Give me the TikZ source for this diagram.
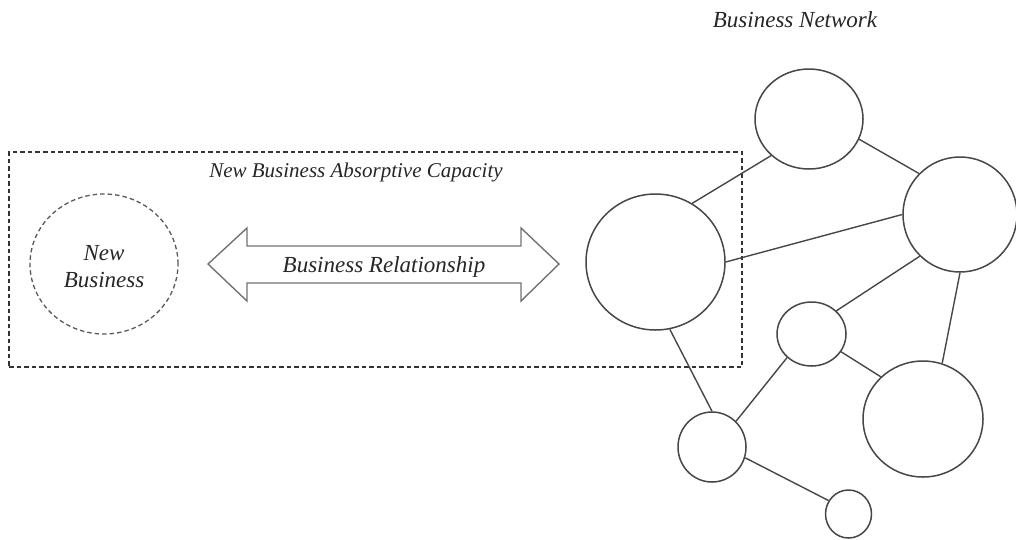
\documentclass[tikz,border=0pt]{standalone}
\usepackage{fontspec}
\setmainfont{Liberation Serif}
\usetikzlibrary{shapes.geometric}
\begin{document}
\begin{tikzpicture}[x=1pt,y=-1pt,
  lbl/.style={font=\fontsize{23}{27}\selectfont\itshape, text=black!85, inner sep=0pt, align=center},
  netnode/.style={ellipse, draw=black!72, line width=1.5pt, inner sep=0pt, fill=white},
  link/.style={draw=black!72, line width=1.4pt},
  dashline/.style={draw=black!80, line width=1.3pt, dash pattern=on 4.5pt off 3pt}
]
\useasboundingbox (0,0) rectangle (1016,539);

% title of the network
\node[lbl] (nettitle) at (795,20) {Business Network};

% absorptive capacity frame
\node[dashline, rectangle, minimum width=733pt, minimum height=215pt, inner sep=0pt] (frame) at (375.5,259.5) {};
\node[lbl, font=\fontsize{21}{25}\selectfont\itshape] (frametitle) at (356,172) {New Business Absorptive Capacity};

% the new business
\node[ellipse, dashline, draw=black!65, minimum width=148pt, minimum height=140pt, inner sep=0pt] (newbiz) at (104,264) {};
\node[lbl] (newbiztext) at (104,267) {New\\Business};

% two-headed relationship arrow
\draw[draw=black!55, line width=1.4pt, fill=white]
  (208,264) -- (247,228) -- (247,246) -- (521,246) -- (521,228) -- (559,264)
  -- (521,301) -- (521,283) -- (247,283) -- (247,301) -- cycle;
\node[lbl] (reltext) at (384,267) {Business Relationship};

% network members
\node[netnode, minimum width=108pt, minimum height=100pt] (T) at (809,119) {};
\node[netnode, minimum width=139pt, minimum height=136pt] (L) at (655.5,262) {};
\node[netnode, minimum width=114pt, minimum height=115pt] (RU) at (960,214.5) {};
\node[netnode, minimum width=69pt, minimum height=64pt] (MS) at (811.5,334) {};
\node[netnode, minimum width=120pt, minimum height=116pt] (RL) at (923,419) {};
\node[netnode, minimum width=68pt, minimum height=70pt] (LL) at (712,447) {};
\node[netnode, minimum width=46pt, minimum height=48pt] (BS) at (848.5,514) {};

% ties between members
\draw[link] (L.58) -- (T.224);
\draw[link] (T.-22) -- (RU.135);
\draw[link] (L.0) -- (RU.180);
\draw[link] (RU.226) -- (MS.43);
\draw[link] (RU.270) -- (RL.71);
\draw[link] (MS.-31) -- (RL.135);
\draw[link] (MS.224) -- (LL.47);
\draw[link] (L.-78) -- (LL.90);
\draw[link] (LL.-18) -- (BS.146);
\end{tikzpicture}
\end{document}
